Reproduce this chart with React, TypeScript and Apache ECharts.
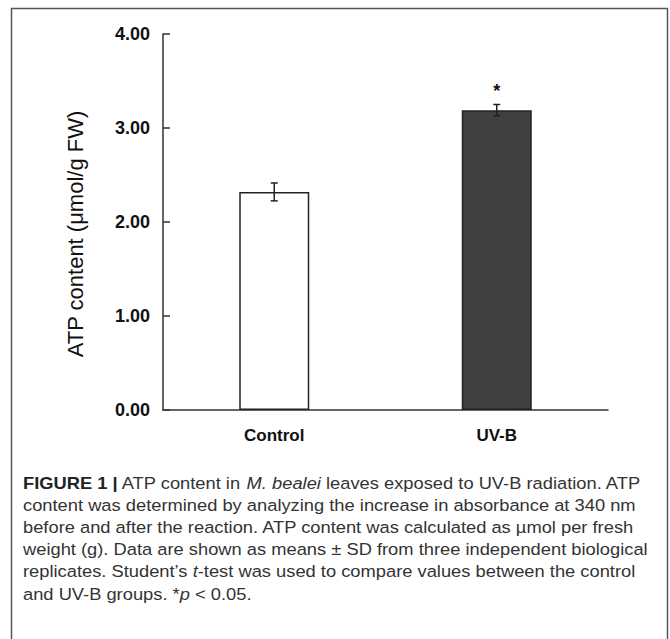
import React, { useEffect, useRef } from "react";
import * as echarts from "echarts";

const categories = ["Control", "UV-B"];
const means = [2.32, 3.19];
const sds = [0.095, 0.06];
const significance = ["", "*"];
const yTicks = [0, 1, 2, 3, 4];
const barColors = ["#ffffff", "#404040"];

const captionLines: string[] = [
  "{b|FIGURE 1 |} ATP content in {i|M. bealei} leaves exposed to UV-B radiation. ATP",
  "content was determined by analyzing the increase in absorbance at 340 nm",
  "before and after the reaction. ATP content was calculated as \u00b5mol per fresh",
  "weight (g). Data are shown as means \u00b1 SD from three independent biological",
  "replicates. Student\u2019s {i|t}-test was used to compare values between the control",
  "and UV-B groups. *{i|p} < 0.05.",
];

export default function App() {
  const ref = useRef<HTMLDivElement>(null);
  useEffect(() => {
    if (!ref.current) return;
    const chart = echarts.init(ref.current, null, { renderer: "svg" });
    const capFont = "'Liberation Sans', Arial, sans-serif";
    const capSize = 16.5;
    const option: any = {
      animation: false,
      backgroundColor: "#ffffff",
      grid: { left: 163, right: 62, top: 34, bottom: 229 },
      xAxis: {
        type: "category",
        data: categories,
        axisLine: { lineStyle: { color: "#333", width: 1.5 } },
        axisTick: { show: false },
        axisLabel: {
          color: "#111",
          fontWeight: "bold",
          fontSize: 17,
          fontFamily: "'Liberation Sans', Arial, sans-serif",
          margin: 17,
        },
      },
      yAxis: {
        type: "value",
        min: yTicks[0],
        max: yTicks[yTicks.length - 1],
        interval: 1,
        splitLine: { show: false },
        axisLine: { show: true, lineStyle: { color: "#333", width: 1.5 } },
        axisTick: { show: true, inside: true, length: 7, lineStyle: { color: "#333", width: 1.5 } },
        axisLabel: {
          color: "#111",
          fontWeight: "bold",
          fontSize: 18,
          fontFamily: "'Liberation Sans', Arial, sans-serif",
          margin: 13,
          formatter: (v: number) => v.toFixed(2),
        },
      },
      series: [
        {
          type: "bar",
          barWidth: 70,
          data: means.map((m, i) => ({
            value: m,
            itemStyle: { color: barColors[i], borderColor: "#222", borderWidth: 1.5 },
          })),
          z: 2,
        },
        {
          type: "custom",
          z: 3,
          data: means.map((m, i) => [i, m, sds[i]]),
          renderItem: (params: any, api: any) => {
            const idx = api.value(0);
            const m = api.value(1);
            const sd = api.value(2);
            const sig = significance[params.dataIndex];
            const top = api.coord([idx, m + sd]);
            const bot = api.coord([idx, m - sd]);
            const hw = 3.5;
            const ls = { stroke: "#222", lineWidth: 1.5 };
            const children: any[] = [
              { type: "line", shape: { x1: top[0], y1: top[1], x2: bot[0], y2: bot[1] }, style: ls },
              { type: "line", shape: { x1: top[0] - hw, y1: top[1], x2: top[0] + hw, y2: top[1] }, style: ls },
              { type: "line", shape: { x1: bot[0] - hw, y1: bot[1], x2: bot[0] + hw, y2: bot[1] }, style: ls },
            ];
            if (sig) {
              children.push({
                type: "text",
                x: top[0],
                y: top[1] - 14,
                style: {
                  text: sig,
                  fill: "#111",
                  fontSize: 18,
                  fontWeight: "bold",
                  fontFamily: "'Liberation Sans', Arial, sans-serif",
                  align: "center",
                  verticalAlign: "middle",
                },
              });
            }
            return { type: "group", children };
          },
        },
      ],
      graphic: [
        {
          type: "rect",
          shape: { x: 11.5, y: 8.5, width: 656, height: 640 },
          style: { fill: "none", stroke: "#555", lineWidth: 1.5 },
          silent: true,
        },
        {
          type: "text",
          x: 75,
          y: 234,
          rotation: Math.PI / 2,
          style: {
            text: "ATP content (\u03bcmol/g FW)",
            fill: "#111",
            fontSize: 22,
            fontFamily: "'Liberation Sans', Arial, sans-serif",
            align: "center",
            verticalAlign: "middle",
          },
        },
        ...captionLines.map((line, i) => ({
          type: "text",
          x: 23,
          y: 483 + i * 22.2,
          scaleX: 1.11,
          style: {
            text: line,
            fill: "#333",
            fontSize: capSize,
            fontWeight: "normal",
            fontFamily: capFont,
            align: "left",
            verticalAlign: "middle",
            rich: {
              b: { fontWeight: "bold", fontSize: capSize, fontFamily: capFont, fill: "#222" },
              i: { fontStyle: "italic", fontWeight: "normal", fontSize: capSize, fontFamily: capFont, fill: "#333" },
            },
          },
        })),
      ],
    };
    chart.setOption(option);
    return () => chart.dispose();
  }, []);
  return (
    <div
      ref={ref}
      style={{ position: "absolute", left: 0, top: 0, width: 670, height: 639 }}
    />
  );
}
